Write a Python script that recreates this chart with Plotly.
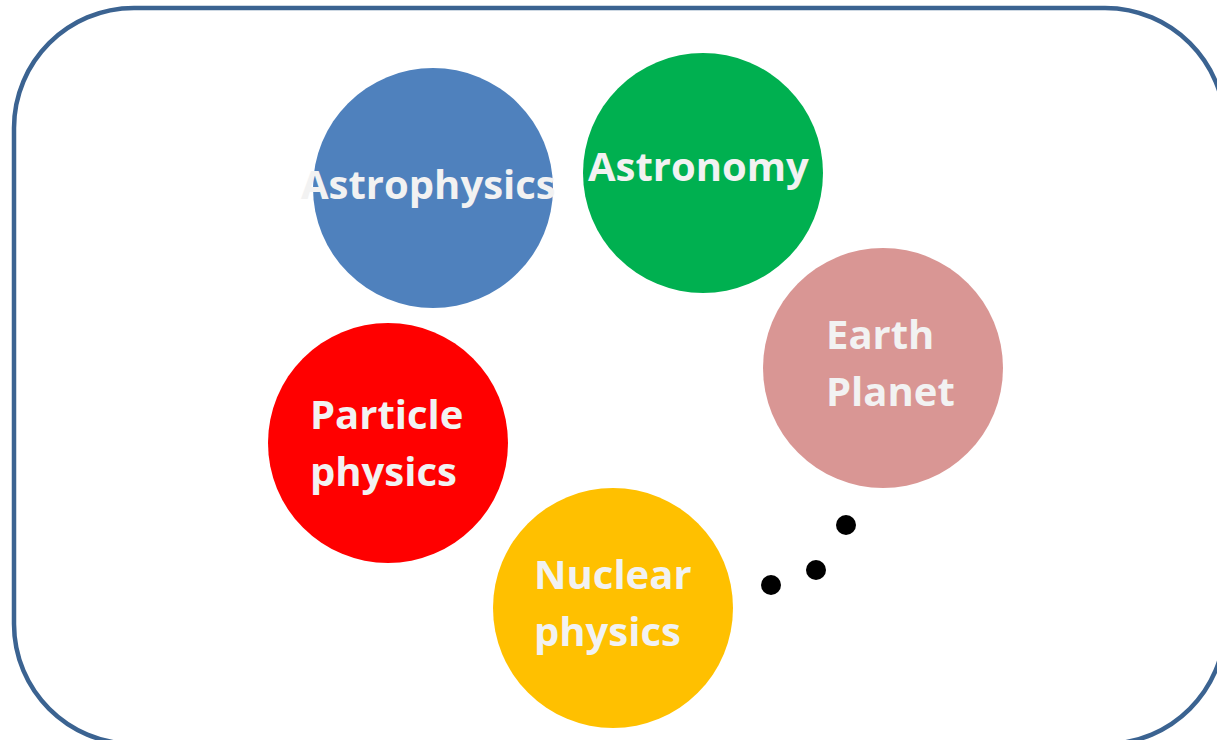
import plotly.graph_objects as go

W, H = 1217, 740

# circle data (pixel-space coordinates on a 1217x740 canvas)
topics = ["Astrophysics", "Astronomy", "Earth Planet", "Particle physics", "Nuclear physics"]
cx = [433, 703, 883, 388, 613]
cy = [188, 173, 368, 443, 608]
radius = [120, 120, 120, 120, 120]
colors = ["#4F81BD", "#00B050", "#D99694", "#FF0000", "#FFC000"]

# label lines
label_text = ["Astrophysics", "Astronomy", "Earth", "Planet", "Particle", "physics", "Nuclear", "physics"]
label_x = [428, 698, 824, 824, 308, 308, 532, 532]
label_y = [183, 165, 333, 390, 413, 470, 573, 630]
label_anchor = ["center", "center", "left", "left", "left", "left", "left", "left"]

dots_x = [771, 816, 846]
dots_y = [585, 570, 525]

border = dict(x0=14, y0=8, x1=1225, y1=744, r=120)

fig = go.Figure()

shapes = []
b = border
r = b["r"]
k = 0.5523 * r
x0, y0, x1, y1 = b["x0"], b["y0"], b["x1"], b["y1"]
path = (f"M {x0+r},{y0} L {x1-r},{y0} "
        f"C {x1-r+k},{y0} {x1},{y0+r-k} {x1},{y0+r} "
        f"L {x1},{y1-r} C {x1},{y1-r+k} {x1-r+k},{y1} {x1-r},{y1} "
        f"L {x0+r},{y1} C {x0+r-k},{y1} {x0},{y1-r+k} {x0},{y1-r} "
        f"L {x0},{y0+r} C {x0},{y0+r-k} {x0+r-k},{y0} {x0+r},{y0} Z")
shapes.append(dict(type="path", path=path, xref="x", yref="y",
                   line=dict(color="#3B6391", width=4.5), fillcolor="rgba(0,0,0,0)", layer="below"))

for x, y, rr, c in zip(cx, cy, radius, colors):
    shapes.append(dict(type="circle", xref="x", yref="y", x0=x-rr, x1=x+rr, y0=y-rr, y1=y+rr,
                       fillcolor=c, line=dict(width=0), layer="above"))

fig.add_trace(go.Scatter(x=dots_x, y=dots_y, mode="markers",
                         marker=dict(color="black", size=20, line=dict(width=0)),
                         hoverinfo="skip", showlegend=False))

annotations = []
for t, x, y, a in zip(label_text, label_x, label_y, label_anchor):
    annotations.append(dict(x=x, y=y, xref="x", yref="y", text=t, showarrow=False,
                            xanchor=a, yanchor="middle",
                            font=dict(family="Open Sans", size=40, color="#F2F2F2", weight="bold")))

fig.update_layout(
    width=W, height=H, margin=dict(l=0, r=0, t=0, b=0),
    paper_bgcolor="white", plot_bgcolor="white",
    xaxis=dict(range=[0, W], visible=False, fixedrange=True),
    yaxis=dict(range=[H, 0], visible=False, fixedrange=True),
    shapes=shapes, annotations=annotations, showlegend=False,
)

fig.write_html("out.html", config={"displayModeBar": False},
               post_script="document.body.style.margin='0';document.body.style.overflow='hidden';")
